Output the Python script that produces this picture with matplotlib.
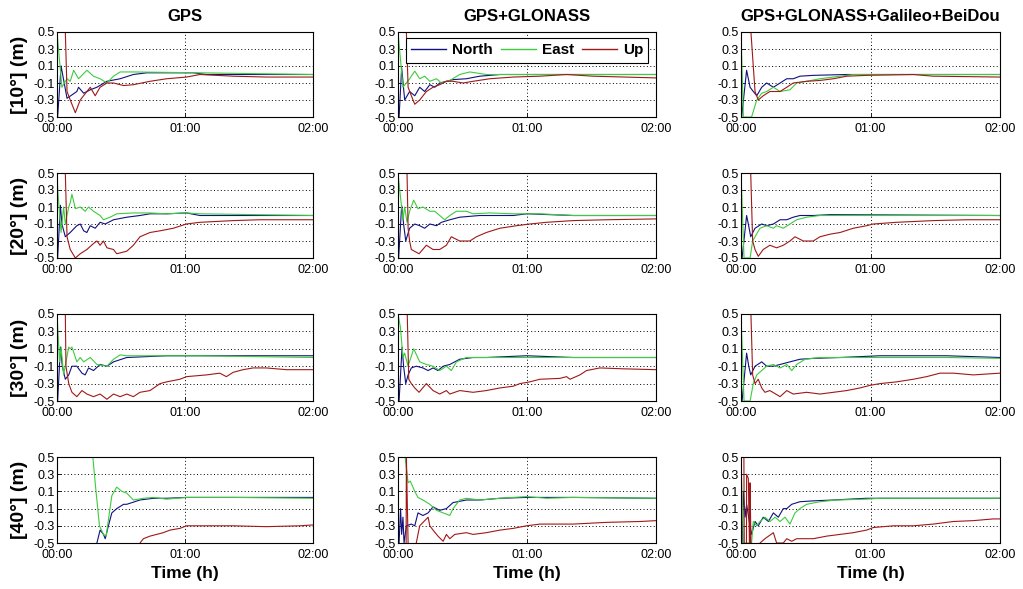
import matplotlib
matplotlib.use("Agg")
import matplotlib.pyplot as plt
import numpy as np

plt.rcParams['font.family'] = ['Liberation Sans', 'DejaVu Sans']

# column titles / row labels
systems = ["GPS", "GPS+GLONASS", "GPS+GLONASS+Galileo+BeiDou"]
masks = ["[10°] (m)", "[20°] (m)", "[30°] (m)", "[40°] (m)"]
series_names = ["North", "East", "Up"]
yticks = [-0.5, -0.3, -0.1, 0.1, 0.3, 0.5]
ytick_labels = ["-0.5", "-0.3", "-0.1", "0.1", "0.3", "0.5"]
xticks = [0, 60, 120]
xtick_labels = ["00:00", "01:00", "02:00"]

# (minutes, metres); values beyond +-0.5 are off the axes
# ---- 10 deg ----
gps10_north = [(0, -2), (0.3, -0.5), (1.9, 0.1), (4.7, -0.28), (9.3, -0.2), (10.1, -0.15), (12.5, -0.22),
               (15.6, -0.18), (18.7, -0.15), (23.4, -0.08), (29.6, -0.05), (35.8, 0.0), (42.1, 0.02),
               (63.9, 0.02), (70.1, 0.0), (120, 0.0)]
gps10_east = [(0, 0.5), (2.3, -0.15), (4.7, -0.05), (6.2, -0.08), (7.8, 0.05), (10.1, -0.05), (14.0, 0.05),
              (17.1, -0.02), (20.2, -0.05), (23.4, -0.1), (26.5, -0.02), (29.6, 0.03), (35.8, 0.03),
              (67.0, 0.02), (120, 0.0)]
gps10_up = [(0, 2), (3.8, 2), (3.9, 0.5), (4.7, -0.2), (6.2, -0.3), (8.6, -0.45), (10.9, -0.3), (14.0, -0.2),
            (15.6, -0.15), (17.9, -0.25), (20.2, -0.15), (23.4, -0.1), (26.5, -0.1), (31.2, -0.13),
            (35.8, -0.12), (43.6, -0.08), (51.4, -0.05), (60.7, -0.03), (67.0, 0.0), (82.6, -0.02),
            (98.1, -0.03), (120, -0.03)]

glo10_north = [(0, -2), (0.5, -0.5), (1.7, 0.08), (3.1, -0.3), (5.4, -0.2), (7.8, -0.25), (10.1, -0.15),
               (12.4, -0.2), (14.8, -0.12), (17.1, -0.15), (19.4, -0.1), (22.5, -0.08), (25.6, -0.06),
               (31.8, -0.05), (38.0, -0.02), (47.4, 0.0), (120, 0.0)]
glo10_east = [(0, 0.5), (2.3, -0.15), (5.4, -0.05), (7.8, 0.04), (10.1, -0.05), (12.4, -0.02), (14.8, -0.08),
              (17.9, -0.05), (20.2, -0.1), (24.1, -0.07), (28.7, 0.0), (33.4, 0.03), (41.1, 0.0), (120, 0.0)]
glo10_up = [(0, 2), (3.8, 2), (3.9, 0.5), (4.7, -0.15), (6.2, -0.25), (7.8, -0.35), (10.1, -0.3), (13.2, -0.2),
            (16.3, -0.15), (19.4, -0.12), (22.5, -0.08), (25.6, -0.08), (30.3, -0.1), (34.9, -0.08),
            (42.7, -0.05), (53.6, -0.03), (66.0, -0.02), (78.4, 0.0), (90.8, -0.02), (120, -0.04)]

all10_north = [(0, -2), (0.3, -0.5), (2.6, 0.05), (4.2, -0.15), (5.7, -0.2), (7.3, -0.25), (9.6, -0.15),
               (11.9, -0.1), (15.0, -0.15), (18.1, -0.1), (21.2, -0.05), (24.2, -0.05), (27.3, -0.02),
               (33.5, -0.01), (49.0, 0.0), (120, 0.0)]
all10_east = [(0, 0.5), (1.1, -0.5), (4.9, -0.5), (7.3, -0.3), (9.6, -0.22), (11.9, -0.2), (15.0, -0.15),
              (18.1, -0.2), (22.7, -0.18), (25.8, -0.1), (30.4, -0.08), (36.6, -0.05), (45.9, -0.02),
              (52.0, 0.0), (120, 0.0)]
all10_up = [(0, 2), (4.5, 2), (4.6, 0.5), (6.5, -0.2), (8.0, -0.3), (10.3, -0.25), (13.4, -0.2), (18.1, -0.2),
            (21.2, -0.15), (24.2, -0.1), (30.4, -0.08), (36.6, -0.07), (42.8, -0.05), (49.0, -0.02),
            (58.2, -0.01), (79.8, 0.0), (89.1, -0.02), (120, -0.03)]

# ---- 20 deg ----
gps20_north = [(0, -2), (0.3, -0.5), (1.6, 0.12), (2.3, -0.1), (3.9, -0.25), (6.2, -0.2), (9.3, -0.12),
               (10.9, -0.1), (12.5, -0.18), (14.0, -0.2), (15.6, -0.12), (17.9, -0.15), (20.2, -0.08),
               (22.6, -0.1), (26.5, -0.05), (32.7, -0.02), (38.9, 0.0), (43.6, 0.02), (51.4, 0.02),
               (60.7, 0.03), (67.0, 0.0), (120, 0.0)]
gps20_east = [(0, 0.5), (0.5, 0.25), (1.9, -0.2), (3.1, 0.1), (3.9, -0.1), (5.5, 0.1), (6.2, 0.15), (7.0, 0.25),
              (8.6, 0.08), (10.9, 0.1), (13.2, 0.05), (14.8, 0.1), (17.1, 0.05), (20.2, 0.0), (21.8, -0.05),
              (24.9, -0.02), (28.0, 0.02), (35.8, 0.03), (43.6, 0.03), (51.4, 0.02), (60.7, 0.03),
              (67.0, 0.02), (120, 0.0)]
gps20_up = [(0, 2), (3.8, 2), (3.9, 0.5), (4.7, -0.25), (6.2, -0.4), (8.6, -0.5), (10.9, -0.45), (14.0, -0.4),
            (17.1, -0.33), (18.7, -0.3), (20.2, -0.35), (21.8, -0.3), (23.4, -0.38), (26.5, -0.4),
            (28.0, -0.45), (32.7, -0.42), (35.8, -0.35), (38.9, -0.25), (43.6, -0.2), (48.3, -0.18),
            (54.5, -0.15), (60.7, -0.1), (67.0, -0.08), (82.6, -0.06), (95.0, -0.05), (120, -0.05)]

glo20_north = [(0, -2), (0.3, -0.5), (1.7, 0.12), (2.6, -0.1), (3.6, -0.3), (5.4, -0.15), (7.8, -0.1),
               (10.1, -0.12), (12.4, -0.15), (14.8, -0.1), (17.9, -0.12), (20.2, -0.08), (24.1, -0.05),
               (28.7, -0.02), (38.0, 0.0), (53.6, 0.0), (59.8, 0.02), (81.5, 0.0), (120, 0.0)]
glo20_east = [(0, 0.5), (0.8, 0.3), (2.3, -0.05), (3.1, 0.1), (4.2, -0.08), (5.4, 0.05), (7.3, 0.18),
              (9.3, 0.08), (11.6, 0.1), (14.8, 0.05), (17.1, 0.05), (19.4, 0.0), (21.7, -0.05), (24.1, 0.0),
              (27.2, 0.05), (31.8, 0.05), (34.9, 0.02), (42.7, 0.03), (53.6, 0.02), (66.0, 0.02),
              (81.5, 0.0), (120, 0.0)]
glo20_up = [(0, 2), (4.1, 2), (4.2, 0.5), (4.7, -0.15), (5.4, -0.3), (6.2, -0.4), (9.8, -0.45), (13.2, -0.35),
            (16.3, -0.4), (19.4, -0.4), (22.5, -0.35), (24.8, -0.25), (28.7, -0.3), (33.4, -0.3),
            (36.5, -0.25), (41.1, -0.2), (47.4, -0.15), (55.1, -0.12), (61.3, -0.1), (69.1, -0.08),
            (81.5, -0.06), (97.0, -0.05), (120, -0.04)]

all20_north = [(0, -2), (0.5, -0.5), (2.6, 0.0), (3.4, -0.1), (4.5, -0.25), (6.5, -0.15), (9.6, -0.1),
               (11.9, -0.12), (15.0, -0.1), (18.1, -0.05), (21.2, -0.05), (24.2, -0.02), (27.3, 0.0),
               (33.5, 0.0), (41.2, 0.01), (120, 0.0)]
all20_east = [(0, 0.5), (1.4, -0.5), (4.2, -0.5), (5.4, -0.3), (6.5, -0.25), (8.8, -0.15), (11.9, -0.12),
              (15.0, -0.15), (16.5, -0.12), (19.6, -0.15), (22.7, -0.1), (25.8, -0.05), (30.4, -0.02),
              (36.6, 0.0), (120, 0.0)]
all20_up = [(0, 2), (4.4, 2), (4.5, 0.5), (5.4, -0.3), (6.5, -0.4), (8.0, -0.48), (10.3, -0.4), (13.4, -0.35),
            (16.5, -0.38), (19.6, -0.35), (22.7, -0.3), (25.0, -0.25), (28.9, -0.3), (33.5, -0.3),
            (36.6, -0.25), (41.2, -0.22), (45.9, -0.2), (52.0, -0.15), (58.2, -0.12), (61.3, -0.1),
            (72.1, -0.08), (89.1, -0.06), (104.6, -0.05), (120, -0.05)]

# ---- 30 deg ----
gps30_north = [(0, -2), (0.3, -0.5), (1.6, 0.12), (2.5, -0.1), (3.9, -0.25), (5.5, -0.2), (7.0, -0.1),
               (9.3, -0.1), (11.7, -0.18), (13.2, -0.2), (14.8, -0.12), (17.1, -0.15), (20.2, -0.08),
               (23.4, -0.1), (26.5, -0.05), (32.7, 0.0), (42.1, 0.01), (51.4, 0.02), (120, 0.02)]
gps30_east = [(0, 0.5), (1.2, -0.05), (1.9, 0.12), (3.1, -0.2), (5.5, 0.12), (6.2, 0.1), (7.0, 0.12),
              (9.3, -0.05), (10.9, 0.0), (12.5, -0.05), (15.6, 0.0), (18.7, -0.08), (23.4, -0.1),
              (26.5, -0.02), (29.6, 0.03), (32.7, 0.02), (42.1, 0.02), (67.0, 0.02), (120, 0.0)]
gps30_up = [(0, 2), (3.8, 2), (3.9, 0.5), (4.2, -0.1), (5.5, -0.3), (7.0, -0.4), (9.3, -0.45), (11.7, -0.38),
            (14.0, -0.42), (17.1, -0.45), (20.2, -0.42), (23.4, -0.48), (26.5, -0.42), (29.6, -0.45),
            (32.7, -0.42), (35.8, -0.45), (38.9, -0.4), (43.6, -0.38), (48.3, -0.3), (51.4, -0.28),
            (57.6, -0.25), (60.7, -0.22), (70.1, -0.2), (76.3, -0.18), (79.4, -0.22), (82.6, -0.17),
            (87.2, -0.14), (91.9, -0.12), (98.1, -0.12), (107.5, -0.14), (120, -0.14)]

glo30_north = [(0, -2), (0.5, -0.5), (1.9, 0.12), (2.6, -0.1), (3.6, -0.3), (4.7, -0.2), (6.2, -0.12),
               (8.5, -0.1), (11.6, -0.12), (14.0, -0.15), (16.3, -0.12), (18.6, -0.15), (21.0, -0.1),
               (24.1, -0.08), (28.7, -0.02), (34.9, 0.0), (41.1, 0.0), (59.8, 0.02), (81.5, 0.0), (120, 0.0)]
glo30_east = [(0, 0.5), (1.1, 0.35), (2.3, 0.0), (3.1, 0.05), (4.7, -0.1), (7.3, 0.1), (10.1, -0.05),
              (13.2, -0.08), (16.3, -0.1), (19.4, -0.15), (22.5, -0.1), (24.8, -0.15), (27.2, -0.05),
              (31.8, 0.0), (41.1, 0.0), (120, 0.0)]
glo30_up = [(0, 2), (4.2, 2), (4.3, 0.5), (5.0, -0.25), (6.2, -0.3), (7.8, -0.35), (9.8, -0.4), (13.2, -0.3),
            (16.3, -0.38), (19.4, -0.42), (22.5, -0.38), (24.1, -0.42), (28.7, -0.38), (34.9, -0.4),
            (41.1, -0.38), (47.4, -0.35), (53.6, -0.33), (56.7, -0.3), (61.3, -0.28), (66.0, -0.25),
            (75.3, -0.24), (78.4, -0.22), (80.0, -0.25), (84.6, -0.2), (87.7, -0.15), (93.9, -0.12),
            (104.8, -0.13), (120, -0.14)]

all30_north = [(0, -2), (0.5, -0.5), (2.6, 0.05), (3.6, -0.1), (4.5, -0.2), (6.5, -0.1), (9.6, -0.05),
               (11.9, -0.1), (15.0, -0.1), (18.1, -0.08), (22.7, -0.05), (27.3, -0.02), (33.5, -0.01),
               (45.9, 0.0), (64.4, 0.02), (95.3, 0.02), (120, 0.0)]
all30_east = [(0, 0.5), (1.4, -0.5), (4.2, -0.5), (5.7, -0.3), (7.3, -0.2), (9.6, -0.15), (11.9, -0.1),
              (15.0, -0.08), (18.1, -0.12), (21.2, -0.08), (23.5, -0.15), (25.8, -0.08), (29.7, -0.02),
              (36.6, 0.0), (95.3, 0.0), (120, -0.01)]
all30_up = [(0, 2), (4.5, 2), (4.6, 0.5), (5.4, -0.2), (6.5, -0.3), (8.0, -0.25), (9.6, -0.35), (11.1, -0.4),
            (13.4, -0.38), (18.1, -0.45), (21.2, -0.38), (24.2, -0.42), (30.4, -0.4), (36.6, -0.42),
            (42.8, -0.4), (49.0, -0.38), (55.1, -0.35), (59.8, -0.32), (64.4, -0.3), (72.1, -0.28),
            (79.8, -0.25), (86.0, -0.22), (92.2, -0.18), (98.4, -0.18), (107.6, -0.2), (120, -0.18)]

# ---- 40 deg ----
gps40_north = [(0, -2), (18.6, -2), (18.7, -0.5), (20.2, -0.35), (21.8, -0.4), (22.6, -0.45), (24.1, -0.3),
               (25.7, -0.15), (28.0, -0.1), (31.2, -0.05), (32.7, -0.05), (38.9, 0.0), (45.2, 0.02),
               (51.4, 0.02), (60.7, 0.03), (120, 0.03)]
gps40_east = [(0, 2), (16.7, 2), (16.8, 0.5), (17.9, 0.2), (18.7, 0.0), (19.9, -0.3), (21.8, -0.4),
              (23.1, -0.42), (23.7, -0.3), (25.7, 0.05), (28.0, 0.15), (30.4, 0.1), (32.7, 0.08),
              (35.8, 0.0), (40.5, 0.02), (45.2, 0.03), (51.4, 0.01), (60.7, 0.03), (82.6, 0.03), (120, 0.02)]
gps40_up = [(0, 2), (0.1, -2), (38.8, -2), (38.9, -0.5), (40.5, -0.45), (43.6, -0.42), (46.7, -0.4),
            (49.8, -0.38), (53.0, -0.35), (57.6, -0.33), (60.7, -0.3), (82.6, -0.3), (98.1, -0.31),
            (113.7, -0.3), (120, -0.29)]

glo40_north = [(0, -2), (0.5, -0.5), (1.2, -0.1), (1.7, -0.4), (2.3, -0.2), (2.8, -0.5), (3.9, -0.3),
               (6.2, -0.28), (7.8, -0.3), (9.3, -0.15), (11.6, -0.18), (14.0, -0.15), (16.3, -0.08),
               (19.4, -0.12), (22.5, -0.1), (25.6, -0.03), (31.8, 0.0), (38.0, 0.0), (47.4, 0.02),
               (59.8, 0.03), (81.5, 0.03), (120, 0.02)]
glo40_east = [(0, 2), (3.2, 2), (3.3, 0.5), (4.7, 0.2), (5.7, 0.22), (7.8, 0.1), (9.3, 0.03), (11.6, 0.0),
              (14.8, -0.05), (17.9, -0.12), (21.0, -0.15), (24.1, -0.18), (25.6, -0.1), (28.7, 0.0),
              (31.8, 0.02), (38.0, 0.0), (47.4, 0.02), (59.8, 0.04), (69.1, 0.02), (81.5, 0.03), (120, 0.02)]
glo40_up = [(0, 2), (0.1, -2), (3.6, -2), (3.9, 0.5), (4.7, -0.5), (4.8, -2), (8.4, -2), (8.5, -0.5),
            (10.1, -0.3), (14.0, -0.2), (14.8, -0.3), (16.3, -0.35), (18.6, -0.42), (21.0, -0.48),
            (22.5, -0.4), (24.1, -0.45), (26.4, -0.4), (31.8, -0.38), (34.9, -0.4), (41.1, -0.38),
            (47.4, -0.35), (53.6, -0.33), (59.8, -0.3), (66.0, -0.28), (81.5, -0.28), (97.0, -0.26),
            (112.6, -0.25), (120, -0.24)]

all40_north = [(0, -2), (0.5, -0.5), (1.1, 0.1), (1.9, -0.2), (2.6, -0.05), (4.2, -0.3), (4.9, -0.4),
               (6.5, -0.25), (8.0, -0.3), (10.3, -0.2), (12.7, -0.25), (15.0, -0.15), (17.3, -0.2),
               (19.6, -0.1), (21.2, -0.1), (23.5, -0.05), (27.3, -0.02), (33.5, -0.01), (42.8, 0.0),
               (58.2, 0.02), (120, 0.02)]
all40_east = [(0, 0.5), (1.1, -0.5), (4.9, -0.5), (5.7, -0.25), (7.3, -0.3), (8.8, -0.25), (11.1, -0.2),
              (13.4, -0.25), (15.8, -0.2), (18.1, -0.25), (20.4, -0.2), (22.7, -0.28), (25.0, -0.15),
              (27.3, -0.1), (30.4, -0.05), (36.6, -0.02), (44.3, 0.0), (58.2, 0.01), (64.4, 0.02), (120, 0.02)]
all40_up = [(0, 2), (1.1, 2), (1.5, -0.5), (1.6, -2), (2.4, -2), (2.6, 0.3), (3.4, 0.25), (3.9, -0.5),
            (4.0, -2), (4.1, -2), (4.2, 0.2), (4.6, -0.5), (4.7, -2), (8.7, -2), (8.8, -0.5), (11.1, -0.45),
            (15.0, -0.38), (16.5, -0.5), (19.6, -0.5), (21.2, -0.45), (23.5, -0.48), (25.8, -0.45),
            (33.5, -0.45), (39.7, -0.42), (45.9, -0.4), (52.0, -0.38), (58.2, -0.35), (61.3, -0.32),
            (70.6, -0.3), (79.8, -0.3), (89.1, -0.28), (98.4, -0.25), (107.6, -0.24), (116.9, -0.22),
            (120, -0.22)]

panels = [
    [(gps10_north, gps10_east, gps10_up), (glo10_north, glo10_east, glo10_up), (all10_north, all10_east, all10_up)],
    [(gps20_north, gps20_east, gps20_up), (glo20_north, glo20_east, glo20_up), (all20_north, all20_east, all20_up)],
    [(gps30_north, gps30_east, gps30_up), (glo30_north, glo30_east, glo30_up), (all30_north, all30_east, all30_up)],
    [(gps40_north, gps40_east, gps40_up), (glo40_north, glo40_east, glo40_up), (all40_north, all40_east, all40_up)],
]

colors = ["#101080", "#3ccc3c", "#a01818"]

W, H = 1023, 589
fig = plt.figure(figsize=(W / 100, H / 100), dpi=100)
fig.patch.set_facecolor("white")

col_left = [57, 398, 741]
col_width = [256, 258, 259]
row_top = [32, 173, 314, 457]
row_bottom = [117, 258, 401, 543]

for r in range(4):
    for c in range(3):
        ax = fig.add_axes([col_left[c] / W, 1 - row_bottom[r] / H,
                           col_width[c] / W, (row_bottom[r] - row_top[r]) / H])
        lines = []
        for name, pts, col in zip(series_names, panels[r][c], colors):
            arr = np.array(pts)
            ln, = ax.plot(arr[:, 0], arr[:, 1], color=col, lw=0.8, label=name)
            lines.append(ln)
        ax.set_xlim(0, 120)
        ax.set_ylim(-0.5, 0.5)
        ax.set_xticks(xticks)
        ax.set_xticklabels(xtick_labels)
        ax.set_yticks(yticks)
        ax.set_yticklabels(ytick_labels)
        ax.tick_params(direction="in", length=3, width=0.6, labelsize=9, colors="black")
        ax.tick_params(axis="x", pad=4)
        ax.tick_params(axis="y", pad=1.5)
        ax.grid(True, linestyle=(0, (1, 2.5)), color="black", lw=0.7)
        for sp in ax.spines.values():
            sp.set_linewidth(0.8)
        if r == 0:
            ax.set_title(systems[c], fontsize=12, fontweight="bold", pad=8)
        if c == 0:
            ax.set_ylabel(masks[r], fontsize=14, fontweight="bold", labelpad=4)
        if r == 3:
            ax.set_xlabel("Time (h)", fontsize=12.5, fontweight="bold", labelpad=4)
        if r == 0 and c == 1:
            leg = ax.legend(handles=lines, ncol=3, loc="upper center", bbox_to_anchor=(0.50, 0.93),
                            frameon=True, fancybox=False, edgecolor="black", framealpha=1,
                            prop={"weight": "bold", "size": 11}, handlelength=2.3,
                            handletextpad=0.4, columnspacing=0.5, borderpad=0.35, borderaxespad=0)
            leg.get_frame().set_linewidth(0.8)
            for h in leg.get_lines():
                h.set_linewidth(1.0)

plt.savefig("out.png", dpi=100)
plt.close()
